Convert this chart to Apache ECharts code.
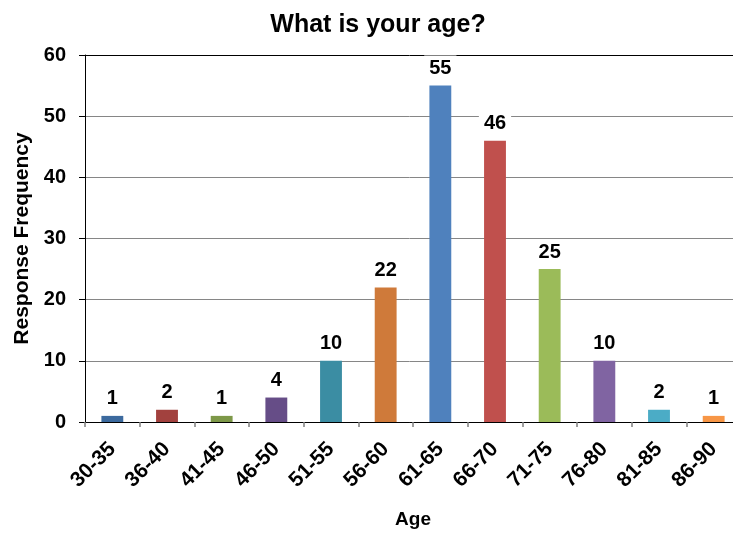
<!DOCTYPE html>
<html>
<head>
<meta charset="utf-8">
<script src="https://cdn.jsdelivr.net/npm/echarts@6/dist/echarts.min.js"></script>
<style>
  html, body { margin: 0; padding: 0; background: #fff; }
  #chart { width: 733px; height: 535px; }
</style>
</head>
<body>
<div id="chart"></div>
<script>
// Age groups and how many respondents fell in each
const ageGroups = ['30-35', '36-40', '41-45', '46-50', '51-55', '56-60', '61-65', '66-70', '71-75', '76-80', '81-85', '86-90'];
const responses = [1, 2, 1, 4, 10, 22, 55, 46, 25, 10, 2, 1];
const barColors = ['#3C6A9E', '#A2413E', '#7D9848', '#664D87', '#3B8DA3', '#CF7A3A',
                   '#4F81BD', '#C0504D', '#9BBB59', '#8064A2', '#4BACC6', '#F79646'];

const font = 'Liberation Sans, Arial, sans-serif';
const chart = echarts.init(document.getElementById('chart'));

chart.setOption({
  animation: false,
  backgroundColor: '#fff',
  title: {
    text: 'What is your age?',
    left: 373,
    textAlign: 'center',
    top: 8,
    textStyle: { fontFamily: font, fontSize: 25, fontWeight: 'bold', color: '#000' }
  },
  grid: { left: 85, right: -8, top: 55, bottom: 113, outerBoundsMode: 'none' },
  xAxis: {
    type: 'category',
    data: ageGroups,
    name: 'Age',
    nameLocation: 'middle',
    nameGap: 88,
    nameTextStyle: { fontFamily: font, fontSize: 19, fontWeight: 'bold', color: '#000' },
    axisLine: { lineStyle: { color: '#000', width: 1 } },
    axisTick: { show: true, length: 5, lineStyle: { color: '#7f7f7f', width: 1.5 } },
    axisLabel: {
      rotate: 45,
      interval: 0,
      margin: 24,
      fontFamily: font, fontSize: 21, fontWeight: 'bold', color: '#000'
    }
  },
  yAxis: {
    type: 'value',
    min: 0,
    max: 60,
    interval: 10,
    name: 'Response Frequency',
    nameLocation: 'middle',
    nameGap: 52,
    nameTextStyle: { fontFamily: font, fontSize: 21, fontWeight: 'bold', color: '#000' },
    axisLine: { show: true, lineStyle: { color: '#000', width: 1 } },
    axisTick: { show: true, length: 6, inside: false, lineStyle: { color: '#000' } },
    axisLabel: { margin: 19, fontFamily: font, fontSize: 20, fontWeight: 'bold', color: '#000' },
    splitLine: {
      show: true,
      lineStyle: {
        color: ['#000', '#868686', '#868686', '#868686', '#868686', '#868686', '#000'],
        width: 1
      }
    }
  },
  series: [{
    type: 'bar',
    data: responses.map((v, i) => ({ value: v, itemStyle: { color: barColors[i] } })),
    barWidth: '40%',
    label: {
      show: true,
      position: 'top',
      distance: 5,
      fontFamily: font,
      fontSize: 20,
      fontWeight: 'bold',
      color: '#000',
      backgroundColor: '#fff',
      padding: [3, 5, 2, 5]
    }
  }]
});
</script>
</body>
</html>
